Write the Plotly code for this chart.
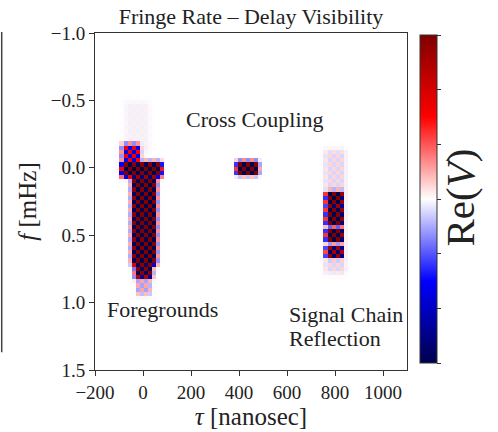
import numpy as np
import plotly.graph_objects as go

# ---- data ----
# axis ticks
x_ticks = [-200, 0, 200, 400, 600, 800, 1000]
x_tick_text = ["\u2212200", "0", "200", "400", "600", "800", "1000"]
y_ticks = [-1.0, -0.5, 0.0, 0.5, 1.0, 1.5]
y_tick_text = ["\u22121.0", "\u22120.5", "0.0", "0.5", "1.0", "1.5"]

# grid resolution (delay / fringe-rate bin sizes)
tau_bin = 17.0
f_bin = 0.031

# features: rectangles in (tau, f) with amplitude |Re(V)| and soft edge widths
#              fg-col  fg-low  fg-row  fg-cap  haze   tail   xcoup  sc1    sc2    sc3    sc4    sc-col
feat_tau_lo = [-35,    -25,    -80,    -75,    -60,   -20,   400,   770,   770,   770,   770,   770]
feat_tau_hi = [45,     30,     70,     -25,    10,    25,    470,   825,   825,   825,   825,   830]
feat_f_lo =   [0.08,   0.70,   -0.02,  -0.15,  -0.45, 0.82,  -0.03, 0.19,  0.32,  0.47,  0.60,  -0.10]
feat_f_hi =   [0.70,   0.80,   0.05,   -0.03,  -0.15, 0.92,  0.04,  0.28,  0.42,  0.54,  0.66,  0.75]
feat_amp =    [1.0,    0.95,   1.0,    0.55,   0.03,  0.18,  1.0,   1.0,   1.0,   1.0,   0.9,   0.08]
feat_edge_tau = [15,   12,     12,     15,     20,    10,    14,    10,    10,    10,    10,    15]
feat_edge_f = [0.03,   0.03,   0.025,  0.03,   0.05,  0.03,  0.02,  0.02,  0.02,  0.02,  0.02,  0.04]

# ---- build heatmap ----
tau_c = np.arange(-200 + tau_bin / 2, 1100, tau_bin)
f_c = np.arange(-1.0 + f_bin / 2, 1.5, f_bin)
T, F = np.meshgrid(tau_c, f_c)
amp = np.zeros_like(T)
for tl, th, fl, fh, a, et, ef in zip(feat_tau_lo, feat_tau_hi, feat_f_lo, feat_f_hi,
                                     feat_amp, feat_edge_tau, feat_edge_f):
    dx = np.maximum(np.maximum(tl - T, T - th), 0) / et
    dy = np.maximum(np.maximum(fl - F, F - fh), 0) / ef
    amp = np.maximum(amp, a * np.exp(-(dx ** 2 + dy ** 2)))
ii, jj = np.meshgrid(np.arange(len(tau_c)), np.arange(len(f_c)))
sign = np.where((ii + jj) % 2 == 0, 1.0, -1.0)
z = amp * sign

seismic = [
    [0.0, "rgb(0,0,77)"],
    [0.25, "rgb(0,0,255)"],
    [0.5, "rgb(255,255,255)"],
    [0.75, "rgb(255,0,0)"],
    [1.0, "rgb(128,0,0)"],
]

FONT = "Liberation Serif"
TXT = "#222"

fig = go.Figure(
    go.Heatmap(
        x=tau_c,
        y=f_c,
        z=z,
        zmin=-1,
        zmax=1,
        colorscale=seismic,
        zsmooth=False,
        colorbar=dict(
            x=1.042,
            xanchor="left",
            xpad=0,
            y=0.507,
            yanchor="middle",
            ypad=0,
            len=0.974,
            lenmode="fraction",
            thickness=17,
            thicknessmode="pixels",
            outlinecolor="#333",
            outlinewidth=1,
            tickvals=[-1, -2 / 3, -1 / 3, 0, 1 / 3, 2 / 3, 1],
            ticks="outside",
            ticklen=4,
            tickcolor="#333",
            showticklabels=False,
        ),
    )
)

fig.update_layout(
    width=498,
    height=432,
    margin=dict(l=95, r=91, t=33, b=57),
    paper_bgcolor="white",
    plot_bgcolor="white",
    font=dict(family=FONT, color=TXT),
    title=dict(
        text="Fringe Rate \u2013 Delay Visibility",
        x=0.504,
        xanchor="center",
        y=0.962,
        yanchor="middle",
        font=dict(family=FONT, size=22, color=TXT),
    ),
    xaxis=dict(
        range=[-200, 1100],
        tickvals=x_ticks,
        ticktext=x_tick_text,
        ticks="outside",
        ticklen=5,
        tickcolor="#333",
        showline=True,
        linecolor="#333",
        linewidth=1,
        mirror=True,
        showgrid=False,
        zeroline=False,
        tickfont=dict(family=FONT, size=19, color=TXT),
        title=dict(text="<i>\u03c4</i> [nanosec]", font=dict(family=FONT, size=25, color=TXT), standoff=0),
    ),
    yaxis=dict(
        range=[1.5, -1.0],
        tickvals=y_ticks,
        ticktext=y_tick_text,
        ticks="outside",
        ticklen=5,
        tickcolor="#333",
        showline=True,
        linecolor="#333",
        linewidth=1,
        mirror=True,
        showgrid=False,
        zeroline=False,
        tickfont=dict(family=FONT, size=19, color=TXT),
        title=dict(text="<i>f</i> [mHz]", font=dict(family=FONT, size=25, color=TXT), standoff=6),
    ),
    annotations=[
        dict(x=467, y=-0.36, xref="x", yref="y", text="Cross Coupling", showarrow=False,
             font=dict(family=FONT, size=22, color=TXT)),
        dict(x=80, y=1.05, xref="x", yref="y", text="Foregrounds", showarrow=False,
             font=dict(family=FONT, size=22, color=TXT)),
        dict(x=600, y=1.085, xref="x", yref="y", text="Signal Chain", showarrow=False,
             xanchor="left", align="left", font=dict(family=FONT, size=22, color=TXT)),
        dict(x=600, y=1.265, xref="x", yref="y", text="Reflection", showarrow=False,
             xanchor="left", align="left", font=dict(family=FONT, size=22, color=TXT)),
        dict(x=1.170, y=0.512, xref="paper", yref="paper", text="Re(<i>V</i>)", showarrow=False,
             textangle=-90, xanchor="center", yanchor="middle",
             font=dict(family=FONT, size=41, color=TXT)),
    ],
    shapes=[
        dict(type="line", xref="paper", yref="paper", x0=-0.299, x1=-0.299, y0=1.003, y1=0.053,
             line=dict(color="#444", width=1.5)),
    ],
)

fig.write_html("out.html")
